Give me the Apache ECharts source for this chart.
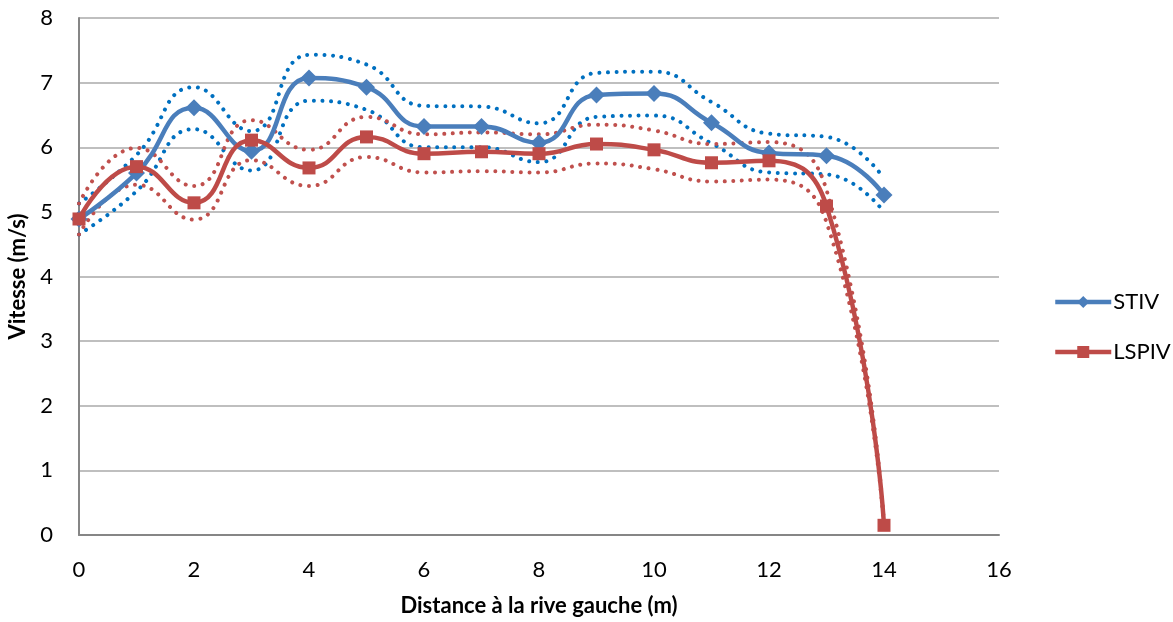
<!DOCTYPE html>
<html>
<head>
<meta charset="utf-8">
<script src="https://cdn.jsdelivr.net/npm/echarts@6/dist/echarts.min.js"></script>
<style>
  html, body { margin: 0; padding: 0; background: #fff; }
  #chart { width: 1173px; height: 622px; }
</style>
</head>
<body>
<div id="chart"></div>
<script>
    // distance (m)
    var distances = [0, 1, 2, 3, 4, 5, 6, 7, 8, 9, 10, 11, 12, 13, 14];

    var stiv = [4.89, 5.6, 6.61, 5.94, 7.07, 6.93, 6.32, 6.32, 6.07, 6.81, 6.83, 6.38, 5.91, 5.87, 5.26];
    var stivHaut = [5.13, 5.88, 6.93, 6.25, 7.43, 7.28, 6.64, 6.63, 6.37, 7.15, 7.17, 6.70, 6.21, 6.16, 5.52];
    var stivBas = [4.65, 5.32, 6.28, 5.64, 6.72, 6.58, 6.00, 6.00, 5.77, 6.47, 6.49, 6.06, 5.61, 5.58, 5.00];

    var lspiv = [4.89, 5.7, 5.14, 6.11, 5.68, 6.16, 5.9, 5.93, 5.9, 6.05, 5.96, 5.76, 5.79, 5.09, 0.15];
    var lspivHaut = [5.13, 5.99, 5.40, 6.42, 5.96, 6.47, 6.20, 6.23, 6.20, 6.35, 6.26, 6.05, 6.08, 5.34, 0.16];
    var lspivBas = [4.65, 5.42, 4.88, 5.80, 5.40, 5.85, 5.61, 5.63, 5.61, 5.75, 5.66, 5.47, 5.50, 4.84, 0.14];

    function pairs(ys) {
        return distances.map(function (x, i) { return [x, ys[i]]; });
    }

    var police = 'Lato, "Noto Sans", sans-serif';
    var bleu = '#4a7ebb';
    var rouge = '#be4b48';

    function pointille(nom, ys, couleur) {
        return {
            name: nom,
            type: 'line',
            smooth: 0.5,
            symbol: 'none',
            silent: true,
            z: 1,
            data: pairs(ys),
            lineStyle: { color: couleur, width: 4, type: [0.01, 8.6], cap: 'round', join: 'round' }
        };
    }

    var myChart = echarts.init(document.getElementById('chart'));

    var option = {
        animation: false,
        backgroundColor: '#fff',
        grid: { left: 79, right: 174, top: 18, bottom: 87, outerBoundsMode: 'none', containLabel: false },
        legend: {
            data: ['STIV', 'LSPIV'],
            orient: 'vertical',
            left: 1048,
            top: 286,
            itemWidth: 56,
            itemHeight: 15,
            itemGap: 28,
            lineStyle: { width: 4.5 },
            textStyle: { fontFamily: police, fontSize: 22, color: '#000', padding: [0, 0, 0, -3] }
        },
        xAxis: {
            type: 'value',
            min: 0, max: 16, interval: 2,
            name: 'Distance à la rive gauche (m)',
            nameLocation: 'middle',
            nameGap: 60,
            nameTextStyle: { fontFamily: police, fontSize: 22, fontWeight: 'bold', color: '#000' },
            axisLine: { lineStyle: { color: '#868686', width: 2 } },
            axisTick: { show: false },
            axisLabel: { fontFamily: police, fontSize: 22, color: '#000', margin: 24 },
            splitLine: { show: false }
        },
        yAxis: {
            type: 'value',
            min: 0, max: 8, interval: 1,
            name: 'Vitesse (m/s)',
            nameLocation: 'middle',
            nameGap: 48,
            nameTextStyle: { fontFamily: police, fontSize: 22, fontWeight: 'bold', color: '#000' },
            axisLine: { show: true, lineStyle: { color: '#868686', width: 2 } },
            axisTick: { show: false },
            axisLabel: { fontFamily: police, fontSize: 22, color: '#000', margin: 26 },
            splitLine: { lineStyle: { color: '#bfbfbf', width: 2 } }
        },
        series: [
            pointille('STIV+', stivHaut, '#0070c0'),
            pointille('STIV-', stivBas, '#0070c0'),
            pointille('LSPIV+', lspivHaut, '#c0504d'),
            pointille('LSPIV-', lspivBas, '#c0504d'),
            {
                name: 'LSPIV',
                type: 'line',
                smooth: 0.5,
                z: 3,
                data: pairs(lspiv),
                symbol: 'rect',
                symbolSize: 13,
                itemStyle: { color: rouge },
                lineStyle: { color: rouge, width: 4.5 }
            },
            {
                name: 'STIV',
                type: 'line',
                smooth: 0.5,
                z: 2,
                data: pairs(stiv),
                symbol: 'diamond',
                symbolSize: 17,
                itemStyle: { color: bleu },
                lineStyle: { color: bleu, width: 4.5 }
            }
        ]
    };

    myChart.setOption(option);
</script>
</body>
</html>
